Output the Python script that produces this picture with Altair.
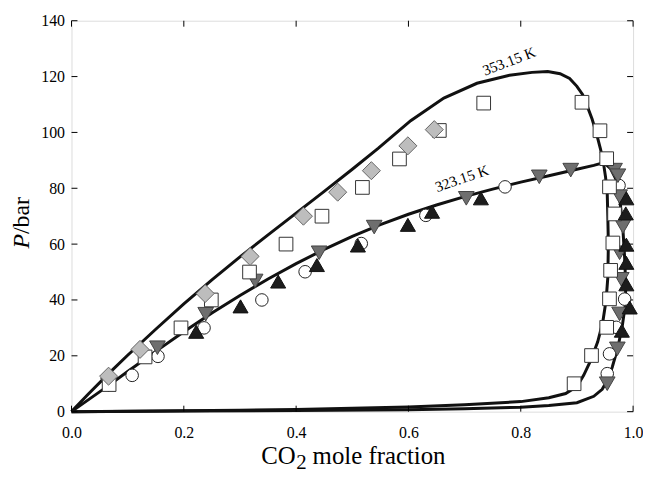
import altair as alt
import pandas as pd

# ---- phase envelope curves ----
t353_x = [0, 0.03, 0.067, 0.1, 0.15, 0.2, 0.25, 0.3, 0.35, 0.4, 0.45, 0.5, 0.546, 0.604, 0.663,
          0.722, 0.78, 0.82, 0.848, 0.87, 0.887, 0.9, 0.91, 0.918, 0.927, 0.935, 0.942, 0.947, 0.951,
          0.954, 0.955, 0.956, 0.955, 0.952, 0.946, 0.937, 0.925, 0.912, 0.9, 0.88, 0.85, 0.8,
          0.7, 0.6, 0.5, 0.4, 0.3, 0.2, 0.1, 0]
t353_y = [0, 6.3, 13.8, 20.2, 29.5, 38.6, 47.2, 55.4, 63.3, 71.1, 78.9, 86.8, 94.3, 104.2, 112.3,
          117.6, 120.5, 121.5, 121.8, 121, 119.3, 116.5, 113.6, 109.6, 104.8, 99.5, 94, 89.4, 84,
          78, 70, 60, 48, 40, 32, 25, 18.5, 13, 9, 6.5, 5, 3.6,
          2.5, 1.7, 1.2, 0.8, 0.5, 0.3, 0.15, 0]

t323_x = [0, 0.067, 0.1, 0.15, 0.2, 0.25, 0.3, 0.35, 0.4, 0.45, 0.5, 0.55, 0.6, 0.65, 0.7, 0.75,
          0.8, 0.85, 0.9, 0.93, 0.948, 0.96, 0.97, 0.977, 0.982, 0.985, 0.987, 0.986, 0.981, 0.973,
          0.963, 0.955, 0.945, 0.93, 0.9, 0.85, 0.8, 0.7, 0.6, 0.4, 0.2, 0]
t323_y = [0, 9.5, 14.4, 21.6, 28.6, 35.3, 41.6, 47.5, 53, 58.1, 62.8, 67, 70.7, 74, 77, 79.7,
          82.2, 84.5, 86.8, 88.2, 89.2, 87, 83, 75, 65, 55, 45, 38, 31, 23,
          16, 11.5, 8, 5.5, 3.2, 2.2, 1.6, 1.0, 0.7, 0.4, 0.2, 0]

# ---- experimental points ----
sq_x = [0.067, 0.131, 0.195, 0.249, 0.317, 0.382, 0.446, 0.518, 0.584, 0.655, 0.734,
        0.909, 0.941, 0.953, 0.958, 0.967, 0.964, 0.960, 0.958, 0.953, 0.926, 0.895]
sq_y = [9.7, 19.6, 30, 40, 50, 60, 70, 80.3, 90.5, 100.7, 110.5,
        110.8, 100.6, 90.6, 80.5, 70.8, 60.4, 50.6, 40.4, 30.2, 20.1, 10]

dia_x = [0.066, 0.122, 0.238, 0.318, 0.413, 0.474, 0.534, 0.599, 0.646]
dia_y = [12.7, 22.3, 42.3, 55.6, 70, 78.6, 86.3, 95.2, 101]

cir_x = [0.108, 0.154, 0.236, 0.339, 0.416, 0.516, 0.631, 0.772,
         0.975, 0.985, 0.970, 0.958, 0.954]
cir_y = [13, 19.8, 30, 40, 50.1, 60.2, 70.3, 80.5,
         81, 40.3, 30.2, 20.7, 13.6]

dtri_x = [0.066, 0.153, 0.239, 0.327, 0.441, 0.539, 0.703, 0.833, 0.889,
          0.967, 0.973, 0.976, 0.982, 0.976, 0.979, 0.976, 0.972, 0.954]
dtri_y = [9.5, 22.9, 34.9, 46.8, 56.9, 66.1, 76.4, 84.1, 86.5,
          86.5, 84.5, 77, 66.3, 56.9, 47.4, 35, 22.5, 10]

utri_x = [0.222, 0.301, 0.368, 0.437, 0.51, 0.599, 0.642, 0.729,
          0.988, 0.987, 0.988, 0.988, 0.988, 0.994, 0.98]
utri_y = [28.6, 37.7, 46.6, 52.5, 59.5, 66.9, 71.6, 76.4,
          76.4, 71, 59.8, 53.3, 45.6, 37.3, 29]

x_ticks = [0.0, 0.2, 0.4, 0.6, 0.8, 1.0]
y_ticks = [0, 20, 40, 60, 80, 100, 120, 140]

curve_labels = ["353.15 K", "323.15 K"]
label_x = [0.779, 0.695]
label_y = [125.5, 83.5]

W, H = 566, 394
FONT = "Liberation Serif"
xs = alt.Scale(domain=[0, 1], nice=False, zero=False)
ys = alt.Scale(domain=[0, 140], nice=False, zero=False)

AX = alt.Axis(values=x_ticks, format=".1f", title=None,
              ticks=False, domain=False, grid=False,
              labelFont=FONT, labelFontSize=16, labelColor="black", labelPadding=13,
              labelFlush=False)
AY = alt.Axis(values=y_ticks, title=None, ticks=False, domain=False, grid=False,
              labelFont=FONT, labelFontSize=16, labelColor="black", labelPadding=7,
              labelFlush=False)


def X():
    return alt.X("x:Q", scale=xs, axis=AX)


def Y():
    return alt.Y("y:Q", scale=ys, axis=AY)


def pts(xv, yv):
    return pd.DataFrame({"x": xv, "y": yv})


def enc(ch):
    return ch.encode(x=X(), y=Y())


c353 = pd.DataFrame({"x": t353_x, "y": t353_y, "i": list(range(len(t353_x)))})
c323 = pd.DataFrame({"x": t323_x, "y": t323_y, "i": list(range(len(t323_x)))})

l353 = alt.Chart(c353).mark_line(color="#111111", strokeWidth=3).encode(x=X(), y=Y(), order="i:Q")
l323 = alt.Chart(c323).mark_line(color="#111111", strokeWidth=3).encode(x=X(), y=Y(), order="i:Q")

circ = enc(alt.Chart(pts(cir_x, cir_y)).mark_point(shape="circle", size=160, filled=True,
                                                    fill="white", stroke="#222222", strokeWidth=1, opacity=1))
dtri = enc(alt.Chart(pts(dtri_x, dtri_y)).mark_point(shape="triangle-down", size=250, filled=True,
                                                      fill="#6e6e6e", stroke="#444444", strokeWidth=1, opacity=1))
sq = enc(alt.Chart(pts(sq_x, sq_y)).mark_point(shape="square", size=190, filled=True,
                                                fill="white", stroke="#333333", strokeWidth=1, opacity=1))
utri = enc(alt.Chart(pts(utri_x, utri_y)).mark_point(shape="triangle-up", size=230, filled=True,
                                                      fill="#1c1c1c", stroke="#111111", strokeWidth=1, opacity=1))
dia = enc(alt.Chart(pts(dia_x, dia_y)).mark_point(shape="diamond", size=330, filled=True,
                                                   fill="#bdbdbd", stroke="#666666", strokeWidth=1, opacity=1))

lab_df = pd.DataFrame({"x": label_x, "y": label_y, "t": curve_labels})
lab353 = enc(alt.Chart(lab_df.iloc[[0]]).mark_text(font=FONT, fontSize=15, angle=339, color="black")
             ).encode(text="t:N")
lab323 = enc(alt.Chart(lab_df.iloc[[1]]).mark_text(font=FONT, fontSize=15, angle=341, color="black")
             ).encode(text="t:N")

# inward tick marks on all four sides
xt = pd.DataFrame({"x": x_ticks})
yt = pd.DataFrame({"y": y_ticks})
tb = alt.Chart(xt).mark_rule(color="black", strokeWidth=1).encode(
    x=X(), y=alt.value(H), y2=alt.value(H - 6))
tt = alt.Chart(xt).mark_rule(color="black", strokeWidth=1).encode(
    x=X(), y=alt.value(0), y2=alt.value(6))
tl = alt.Chart(yt).mark_rule(color="black", strokeWidth=1).encode(
    y=Y(), x=alt.value(0), x2=alt.value(6))
tr = alt.Chart(yt).mark_rule(color="black", strokeWidth=1).encode(
    y=Y(), x=alt.value(W), x2=alt.value(W - 6))

# axis titles: "P/bar" with italic P, "CO2 mole fraction" with lowered 2
one = pd.DataFrame({"k": [0]})
yP = alt.Chart(one).mark_text(text="P", font=FONT, fontSize=24, fontStyle="italic",
                               angle=270, align="right", baseline="middle", color="black").encode(
    x=alt.value(-50), y=alt.value(215))
yBar = alt.Chart(one).mark_text(text="/bar", font=FONT, fontSize=24,
                                 angle=270, align="left", baseline="middle", color="black").encode(
    x=alt.value(-50), y=alt.value(215))

X0 = 226
TB = 447
xCO = alt.Chart(one).mark_text(text="CO", font=FONT, fontSize=25, align="right",
                                baseline="alphabetic", color="black").encode(
    x=alt.value(X0), y=alt.value(TB))
x2 = alt.Chart(one).mark_text(text="2", font=FONT, fontSize=21, align="left",
                               baseline="alphabetic", color="black").encode(
    x=alt.value(X0 + 0.5), y=alt.value(TB + 5))
xRest = alt.Chart(one).mark_text(text="mole fraction", font=FONT, fontSize=25, align="left",
                                  baseline="alphabetic", color="black").encode(
    x=alt.value(X0 + 17), y=alt.value(TB))

chart = alt.layer(l353, l323, tb, tt, tl, tr, circ, dtri, sq, utri, dia, lab353, lab323,
                  yP, yBar, xCO, x2, xRest).properties(
    width=W, height=H,
    autosize=alt.AutoSizeParams(type="none"),
    padding={"left": 64, "top": 11, "right": 10, "bottom": 60},
).configure_view(stroke="black", strokeWidth=1).configure(background="white")

chart.save("out.html", embed_options={"renderer": "svg", "actions": False})
